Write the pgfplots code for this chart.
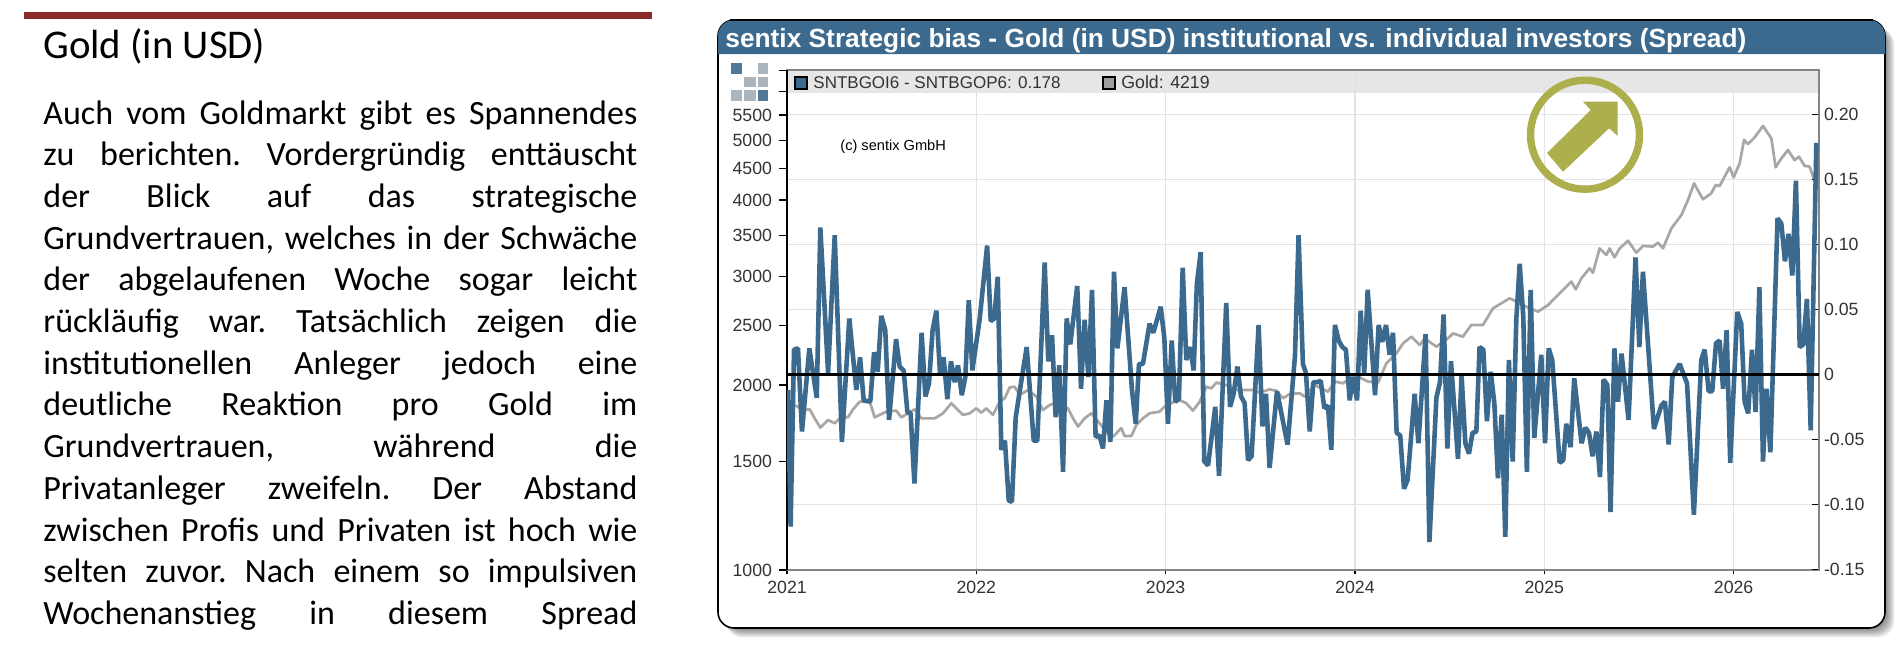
\documentclass[border=0pt]{standalone}
\usepackage{fontspec}
\usepackage{pgfplots}
\usepackage{pgfplotstable}
\pgfplotsset{compat=1.18}
\setmainfont{Liberation Sans}
\newfontfamily\bodyfont{Carlito}

\definecolor{sentixblue}{HTML}{3C6A8E}
\definecolor{goldgrey}{HTML}{A9A6A4}
\definecolor{gridgrey}{HTML}{E3E3E3}
\definecolor{axisgrey}{HTML}{858585}
\definecolor{bandgrey}{HTML}{E6E6E6}
\definecolor{ringgreen}{HTML}{ADAF4C}
\definecolor{barred}{HTML}{8C2B2B}
\definecolor{logogrey}{HTML}{ABB5BD}
\definecolor{ticktext}{HTML}{333333}

% weekly spread
\pgfplotstableread{
x y
2021.005 -0.012
2021.019 -0.117
2021.037 0.019
2021.058 0.020
2021.079 -0.044
2021.118 0.020
2021.157 -0.018
2021.176 0.113
2021.217 0.001
2021.252 0.107
2021.290 -0.052
2021.329 0.043
2021.366 -0.012
2021.386 0.013
2021.405 -0.020
2021.440 -0.021
2021.460 0.017
2021.479 0.002
2021.498 0.045
2021.519 0.034
2021.539 -0.035
2021.576 0.027
2021.595 0.006
2021.616 0.003
2021.636 -0.029
2021.653 -0.030
2021.673 -0.084
2021.711 0.032
2021.731 -0.017
2021.750 -0.007
2021.769 0.034
2021.789 0.049
2021.808 0.001
2021.827 0.013
2021.847 -0.019
2021.866 0.010
2021.886 -0.006
2021.903 0.007
2021.923 -0.016
2021.942 -0.002
2021.960 0.057
2021.979 0.003
2022.018 0.043
2022.057 0.099
2022.076 0.041
2022.095 0.043
2022.113 0.075
2022.132 -0.058
2022.151 -0.051
2022.171 -0.097
2022.188 -0.098
2022.208 -0.033
2022.227 -0.015
2022.266 0.021
2022.303 -0.051
2022.322 -0.051
2022.361 0.086
2022.380 0.010
2022.400 0.030
2022.419 -0.033
2022.438 0.007
2022.458 -0.075
2022.477 0.043
2022.496 0.023
2022.533 0.068
2022.553 -0.011
2022.572 0.042
2022.592 -0.002
2022.611 0.065
2022.630 -0.048
2022.650 -0.047
2022.669 -0.057
2022.687 -0.020
2022.708 -0.052
2022.727 0.079
2022.745 0.020
2022.783 0.067
2022.822 -0.012
2022.842 -0.038
2022.859 0.008
2022.880 0.008
2022.915 0.039
2022.935 0.032
2022.974 0.052
2022.993 0.028
2023.012 -0.038
2023.032 0.026
2023.051 -0.021
2023.070 -0.019
2023.090 0.082
2023.109 0.011
2023.129 0.021
2023.148 0.003
2023.165 0.070
2023.185 0.094
2023.204 -0.067
2023.224 -0.070
2023.262 -0.025
2023.282 -0.078
2023.320 0.055
2023.340 -0.025
2023.359 -0.015
2023.379 0.006
2023.398 -0.017
2023.417 -0.022
2023.435 -0.066
2023.454 -0.063
2023.491 0.038
2023.511 -0.040
2023.530 -0.015
2023.549 -0.072
2023.588 -0.013
2023.644 -0.054
2023.683 0.014
2023.702 0.107
2023.725 0.008
2023.741 0.001
2023.761 -0.044
2023.780 -0.006
2023.799 -0.006
2023.819 -0.005
2023.838 -0.026
2023.857 -0.024
2023.875 -0.058
2023.894 0.038
2023.914 0.026
2023.933 0.021
2023.952 0.019
2023.972 -0.020
2023.989 -0.002
2024.011 -0.020
2024.030 0.049
2024.049 0.001
2024.067 0.065
2024.106 -0.016
2024.125 0.038
2024.144 0.025
2024.164 0.038
2024.183 0.015
2024.201 0.032
2024.220 -0.045
2024.239 -0.047
2024.259 -0.088
2024.278 -0.081
2024.315 -0.015
2024.335 -0.053
2024.373 0.031
2024.393 -0.129
2024.430 -0.018
2024.449 -0.006
2024.468 0.046
2024.488 -0.057
2024.507 0.010
2024.544 -0.065
2024.563 -0.001
2024.583 -0.053
2024.602 -0.061
2024.621 -0.045
2024.641 -0.044
2024.658 0.021
2024.678 0.019
2024.697 -0.036
2024.717 0.002
2024.736 -0.022
2024.755 -0.080
2024.775 -0.031
2024.794 -0.125
2024.813 0.011
2024.833 -0.067
2024.852 0.042
2024.870 0.085
2024.889 0.044
2024.908 -0.075
2024.928 0.065
2024.947 -0.049
2024.984 0.015
2025.004 -0.053
2025.023 0.020
2025.042 0.011
2025.081 -0.068
2025.100 -0.066
2025.116 -0.038
2025.139 -0.056
2025.158 -0.003
2025.197 -0.053
2025.217 -0.041
2025.236 -0.045
2025.255 -0.063
2025.275 -0.044
2025.294 -0.079
2025.313 -0.004
2025.333 -0.008
2025.350 -0.106
2025.370 0.020
2025.389 -0.021
2025.408 0.016
2025.445 -0.035
2025.482 0.090
2025.502 0.021
2025.521 0.079
2025.579 -0.042
2025.618 -0.024
2025.637 -0.021
2025.657 -0.054
2025.676 -0.002
2025.715 0.008
2025.754 -0.007
2025.790 -0.108
2025.829 0.011
2025.847 0.019
2025.868 -0.013
2025.887 -0.013
2025.907 0.024
2025.926 0.026
2025.944 -0.011
2025.963 0.034
2025.982 -0.068
2026.019 0.048
2026.040 0.039
2026.058 -0.021
2026.077 -0.030
2026.097 0.019
2026.116 -0.029
2026.136 0.067
2026.155 -0.067
2026.174 -0.011
2026.194 -0.060
2026.232 0.120
2026.252 0.116
2026.271 0.087
2026.290 0.108
2026.310 0.076
2026.329 0.149
2026.349 0.021
2026.368 0.023
2026.387 0.058
2026.407 -0.043
2026.437 0.178
}\spreaddata

% gold price
\pgfplotstableread{
x y
2021.000 1868
2021.049 1849
2021.085 1821
2021.120 1826
2021.146 1765
2021.176 1705
2021.217 1754
2021.252 1733
2021.287 1776
2021.322 1772
2021.349 1826
2021.384 1879
2021.437 1879
2021.463 1772
2021.489 1788
2021.525 1810
2021.577 1817
2021.604 1772
2021.639 1799
2021.674 1826
2021.710 1765
2021.745 1765
2021.780 1765
2021.824 1799
2021.868 1868
2021.894 1833
2021.930 1788
2021.965 1799
2022.000 1833
2022.026 1803
2022.053 1833
2022.088 1788
2022.123 1879
2022.150 1903
2022.176 1982
2022.202 1987
2022.229 1927
2022.273 1963
2022.317 1915
2022.352 1821
2022.387 1856
2022.423 1868
2022.484 1833
2022.511 1765
2022.537 1712
2022.572 1765
2022.607 1799
2022.651 1733
2022.695 1669
2022.722 1648
2022.766 1701
2022.783 1652
2022.819 1652
2022.845 1722
2022.880 1765
2022.915 1799
2022.968 1810
2023.004 1856
2023.074 1891
2023.109 1868
2023.144 1817
2023.180 1879
2023.215 1987
2023.241 1975
2023.268 2018
2023.320 2000
2023.373 1963
2023.426 1963
2023.461 1963
2023.496 1944
2023.549 1968
2023.585 1958
2023.620 1903
2023.655 1934
2023.708 1939
2023.734 1915
2023.787 2000
2023.858 1951
2023.893 2026
2023.937 2013
2023.998 2076
2024.069 2026
2024.122 2018
2024.166 2170
2024.219 2252
2024.254 2338
2024.298 2397
2024.342 2323
2024.368 2382
2024.430 2309
2024.491 2382
2024.518 2427
2024.570 2397
2024.614 2504
2024.676 2504
2024.729 2666
2024.817 2768
2024.905 2682
2024.967 2633
2025.020 2699
2025.081 2820
2025.143 2946
2025.166 2862
2025.196 2983
2025.239 3097
2025.257 3047
2025.292 3337
2025.327 3255
2025.345 3337
2025.371 3227
2025.398 3337
2025.442 3434
2025.486 3284
2025.521 3368
2025.574 3360
2025.600 3410
2025.627 3337
2025.671 3597
2025.724 3782
2025.759 4000
2025.791 4258
2025.838 4011
2025.882 4102
2025.905 4231
2025.926 4215
2025.979 4522
2026.000 4355
2026.032 4590
2026.055 5010
2026.076 4934
2026.111 5059
2026.155 5278
2026.199 5040
2026.222 4522
2026.252 4675
2026.287 4824
2026.322 4647
2026.345 4706
2026.375 4546
2026.401 4534
2026.437 4219
}\golddata

\newcommand{\tickfont}{\fontsize{8.85}{10}\selectfont}
\newcommand{\jl}[1]{\hbox to 297pt{#1}}

\pgfplotsset{
  chartbase/.style={
    at={(plotsw)}, anchor=south west,
    scale only axis, width=516pt, height=250pt,
    xmin=2021, xmax=2026.451,
    ticklabel style={font=\tickfont, text=ticktext},
  },
}

\begin{document}
\begin{tikzpicture}[x=0.5pt,y=-0.5pt]
\useasboundingbox (0,0) rectangle (1899,644);
\coordinate (plotsw) at (787,570);

% left column
\fill[barred] (24,12) rectangle (652,19);
\node[anchor=base west,inner sep=0pt,font=\bodyfont\fontsize{20.4}{24}\selectfont] at (43,58) {Gold (in USD)};
\node[anchor=north west,inner sep=0pt,font=\bodyfont\fontsize{17}{20.85}\selectfont] at (43,100) {%
  \vbox{\frenchspacing\baselineskip=20.85pt
  \jl{Auch vom Goldmarkt gibt es Spannendes}
  \jl{zu berichten. Vordergründig enttäuscht}
  \jl{der Blick auf das strategische}
  \jl{Grundvertrauen, welches in der Schwäche}
  \jl{der abgelaufenen Woche sogar leicht}
  \jl{rückläufig war. Tatsächlich zeigen die}
  \jl{institutionellen Anleger jedoch eine}
  \jl{deutliche Reaktion pro Gold im}
  \jl{Grundvertrauen, während die}
  \jl{Privatanleger zweifeln. Der Abstand}
  \jl{zwischen Profis und Privaten ist hoch wie}
  \jl{selten zuvor. Nach einem so impulsiven}
  \jl{Wochenanstieg in diesem Spread}}};

% chart frame with soft shadow
\foreach \s in {9,7.5,6,4.5,3,1.5}
  \fill[black,opacity=0.09,rounded corners=8pt] (726,28) rectangle (1885+\s,628+\s);
\draw[black,line width=0.8pt,fill=white,rounded corners=8pt] (718,20) rectangle (1885,628);
\fill[sentixblue] (718,54) {[rounded corners=8pt] -- (718,20) -- (1885,20)} -- (1885,54) -- cycle;
\draw[black,line width=1pt] (730,20) -- (1873,20);
\node[anchor=base west,inner sep=0pt,text=white,font=\bfseries\fontsize{13.15}{15}\selectfont] at (725,47)
  {sentix Strategic bias - Gold (in USD) institutional vs. individual investors (Spread)};

% logo
\fill[sentixblue!90] (731,63) rectangle (742,74);
\fill[logogrey] (758,63) rectangle (768,74);
\fill[logogrey] (744,77) rectangle (756,87);
\fill[logogrey] (758,77) rectangle (768,87);
\fill[logogrey] (731,90) rectangle (742,101);
\fill[logogrey] (744,90) rectangle (756,101);
\fill[sentixblue!90] (758,90) rectangle (768,101);

% legend band
\fill[bandgrey] (787,70) rectangle (1819,93);

% grid, bottom axis and box
\begin{axis}[chartbase,
    ymin=-0.1505, ymax=0.2341,
    axis line style={axisgrey, line width=0.75pt},
    grid=major, major grid style={gridgrey, line width=0.8pt},
    xtick={2021,2022,2023,2024,2025,2026},
    xticklabels={2021,2022,2023,2024,2025,2026},
    ytick={-0.10,-0.05,0.05,0.10,0.15,0.20},
    yticklabels={},
    tick align=outside, major tick length=2pt,
    xtick style={black, line width=0.6pt},
    ytick style={draw=none},
    xtick pos=bottom,
  ]
\end{axis}

% gold on the left log axis
\begin{axis}[chartbase,
    ymode=log, ymin=1000, ymax=6512,
    axis x line=none, axis y line*=left,
    axis line style={black, line width=0.9pt, -},
    ytick={1000,1500,2000,2500,3000,3500,4000,4500,5000,5500,6000,6500},
    yticklabels={1000,1500,2000,2500,3000,3500,4000,4500,5000,5500,,},
    yminorticks=false,
    tick align=outside, major tick length=4pt,
    ytick style={black, line width=0.6pt},
  ]
  \addplot[goldgrey, line width=1.35pt, line join=round] table[x=x,y=y] {\golddata};
\end{axis}

% spread on the right axis
\begin{axis}[chartbase,
    ymin=-0.1505, ymax=0.2341,
    axis x line=none, axis y line*=right,
    axis line style={axisgrey, line width=0.75pt, -},
    ytick={-0.15,-0.10,-0.05,0,0.05,0.10,0.15,0.20},
    yticklabels={-0.15,-0.10,-0.05,0,0.05,0.10,0.15,0.20},
    tick align=inside, major tick length=3.5pt,
    ytick style={black, line width=0.6pt},
    yticklabel style={anchor=west, xshift=-1pt},
  ]
  \addplot[sentixblue, line width=2.3pt, line join=bevel] table[x=x,y=y] {\spreaddata};
  \addplot[black, line width=1.5pt] coordinates {(2021,0) (2026.451,0)};
\end{axis}

% legend and notes
\draw[black,line width=0.6pt,fill=sentixblue] (795,77) rectangle (807,89);
\node[anchor=base west,inner sep=0pt,text=ticktext,font=\fontsize{8.5}{10}\selectfont] at (813,88) {SNTBGOI6 - SNTBGOP6: 0.178};
\draw[black,line width=0.6pt,fill=axisgrey!80] (1103,77) rectangle (1115,89);
\node[anchor=base west,inner sep=0pt,text=ticktext,font=\tickfont] at (1121,88) {Gold: 4219};
\node[anchor=base west,inner sep=0pt,text=black,font=\fontsize{7.3}{9}\selectfont] at (840,150) {(c) sentix GmbH};

% trend arrow
\draw[ringgreen,line width=3.7pt] (1585,134.7) circle[radius=54.5];
\fill[ringgreen] (1617.7,101.7) -- (1583,101.7) -- (1590.7,110) -- (1547,153) -- (1563,171.7) -- (1609,128.3) -- (1617.7,136) -- cycle;
\end{tikzpicture}
\end{document}
